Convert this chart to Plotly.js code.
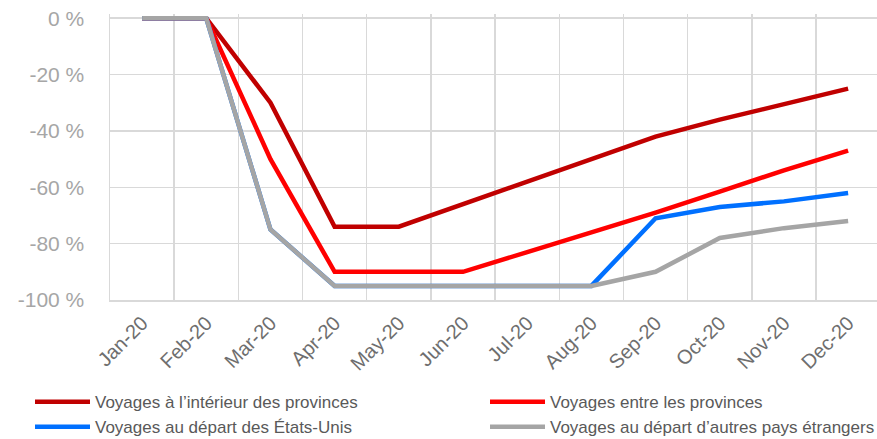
<!DOCTYPE html>
<html>
<head>
<meta charset="utf-8">
<script src="https://cdn.plot.ly/plotly-3.0.1.min.js"></script>
<style>html,body{margin:0;padding:0;background:#fff;}#chart{width:877px;height:439px;}</style>
</head>
<body>
<div id="chart"></div>
<script>
var months = ["Jan-20","Feb-20","Mar-20","Apr-20","May-20","Jun-20","Jul-20","Aug-20","Sep-20","Oct-20","Nov-20","Dec-20"];
var seriesNames = ["Voyages à l’intérieur des provinces","Voyages entre les provinces","Voyages au départ des États-Unis","Voyages au départ d’autres pays étrangers"];
var intraProv = [0, 0, -30, -74, -74, -66, -58, -50, -42, -36, -30.5, -25];
var interProv = [0, 0, -50, -90, -90, -90, -83, -76, -69, -61.5, -54, -47];
var fromUS   = [0, 0, -75, -95, -95, -95, -95, -95, -71, -67, -65, -62];
var fromOther= [0, 0, -75, -95, -95, -95, -95, -95, -90, -78, -74.5, -72];
var yTickVals = [0, -20, -40, -60, -80, -100];
var yTickText = ["0 %", "-20 %", "-40 %", "-60 %", "-80 %", "-100 %"];

var colors = ["#C00000", "#FF0000", "#0070FF", "#A5A5A5"];
var legendIds = ["legend", "legend2", "legend", "legend2"];
var data = [intraProv, interProv, fromUS, fromOther].map(function(v, i){
  return {x: months, y: v, type: "scatter", mode: "lines", name: seriesNames[i],
          legend: legendIds[i],
          line: {color: colors[i], width: 4.5}, hoverinfo: "skip"};
});

function legendCfg(xPx) {
  return {
    orientation: "h", xref: "container", yref: "container",
    x: xPx / 877, y: 0.125, xanchor: "left", yanchor: "top",
    itemwidth: 55, entrywidth: 420, entrywidthmode: "pixels",
    font: {size: 17, color: "#595959"}, traceorder: "normal",
    bgcolor: "rgba(0,0,0,0)"
  };
}

var layout = {
  width: 877, height: 439,
  paper_bgcolor: "#fff", plot_bgcolor: "#fff",
  font: {family: "Liberation Sans, Arial, sans-serif", color: "#595959"},
  margin: {l: 110, r: 0, t: 14, b: 139},
  xaxis: {
    type: "category", range: [-0.5, 11.45], tickson: "boundaries",
    showgrid: true, gridcolor: "#D9D9D9", gridwidth: 1.5,
    showline: true, linecolor: "#D9D9D9", linewidth: 1.5,
    ticks: "", tickangle: -45, tickfont: {size: 20, color: "#6E6E6E"},
    ticklabelstandoff: 2,
    zeroline: false, fixedrange: true
  },
  yaxis: {
    range: [-100, 1.5], tickvals: yTickVals, ticktext: yTickText,
    showgrid: true, gridcolor: "#D9D9D9", gridwidth: 1.5,
    showline: true, linecolor: "#D9D9D9", linewidth: 1.5,
    zeroline: false, ticks: "", ticklabelstandoff: 20,
    tickfont: {size: 21, color: "#A6A6A6"}, fixedrange: true
  },
  showlegend: true,
  legend: legendCfg(30),
  legend2: legendCfg(485)
};
Plotly.newPlot("chart", data, layout, {staticPlot: true, displayModeBar: false});
</script>
</body>
</html>
